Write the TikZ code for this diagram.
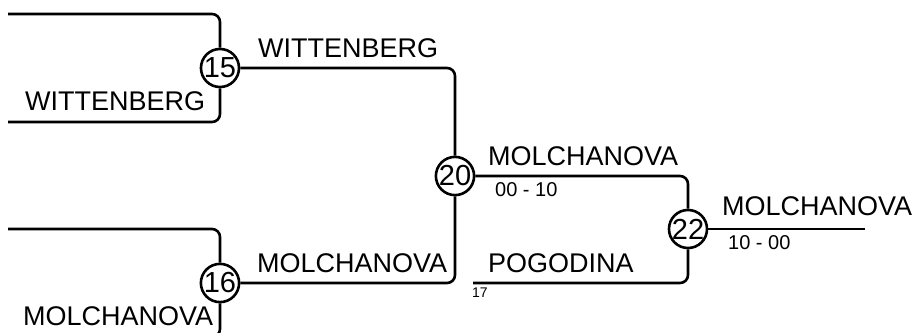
\documentclass[tikz,border=0pt]{standalone}
\usepackage{fontspec}
\setmainfont{Liberation Sans}
\usetikzlibrary{arrows.meta, positioning, calc}

\begin{document}
\begin{tikzpicture}[
    x=1pt, y=-1pt,
    bracket/.style={line width=2.6pt, rounded corners=8pt}, % bracket lines
    match/.style={draw, circle, line width=2.6pt, minimum size=38pt, inner sep=0pt,
        font=\fontsize{29}{29}\selectfont}, % match number circles
    player/.style={inner sep=0pt, anchor=base west, font=\fontsize{27}{27}\selectfont},
    score/.style={inner sep=0pt, anchor=base west, font=\fontsize{20}{20}\selectfont},
    seed/.style={inner sep=0pt, anchor=base west, font=\fontsize{14}{14}\selectfont}
]
    \useasboundingbox (0,0) rectangle (915,332);
    \clip (0,0) rectangle (915,332);

    % 1. match circles
    \node[match] (m15) at (220,68) {15};
    \node[match] (m16) at (220,283) {16};
    \node[match] (m20) at (455,176) {20};
    \node[match] (m22) at (688,229) {22};

    % 2. free ends of the bracket
    \coordinate (in15a) at (8,14);
    \coordinate (in15b) at (8,122);
    \coordinate (in16a) at (8,229);
    \coordinate (in16b) at (8,337);
    \coordinate (in17) at (473,283);
    \coordinate (win) at (865,229);

    % 3. bracket lines
    \draw[bracket] (in15a) -| (m15);
    \draw[bracket] (in15b) -| (m15);
    \draw[bracket] (in16a) -| (m16);
    \draw[bracket] (in16b) -| (m16);
    \draw[bracket] (m15) -| (m20);
    \draw[bracket] (m16) -| (m20);
    \draw[bracket] (m20) -| (m22);
    \draw[bracket] (in17) -| (m22);
    \draw[bracket] (m22) -- (win);

    % 4. names and scores
    \node[player] (p15a) at (258,57) {WITTENBERG};
    \node[player] (p15b) at (25,110) {WITTENBERG};
    \node[player] (p16a) at (257,272) {MOLCHANOVA};
    \node[player] (p16b) at (23,325) {MOLCHANOVA};
    \node[player] (p20) at (488,165) {MOLCHANOVA};
    \node[score] (s20) at (495,196) {00 - 10};
    \node[player] (p17) at (488,272) {POGODINA};
    \node[seed] (n17) at (472,297) {17};
    \node[player] (p22) at (722,215) {MOLCHANOVA};
    \node[score] (s22) at (728,249) {10 - 00};
\end{tikzpicture}
\end{document}
